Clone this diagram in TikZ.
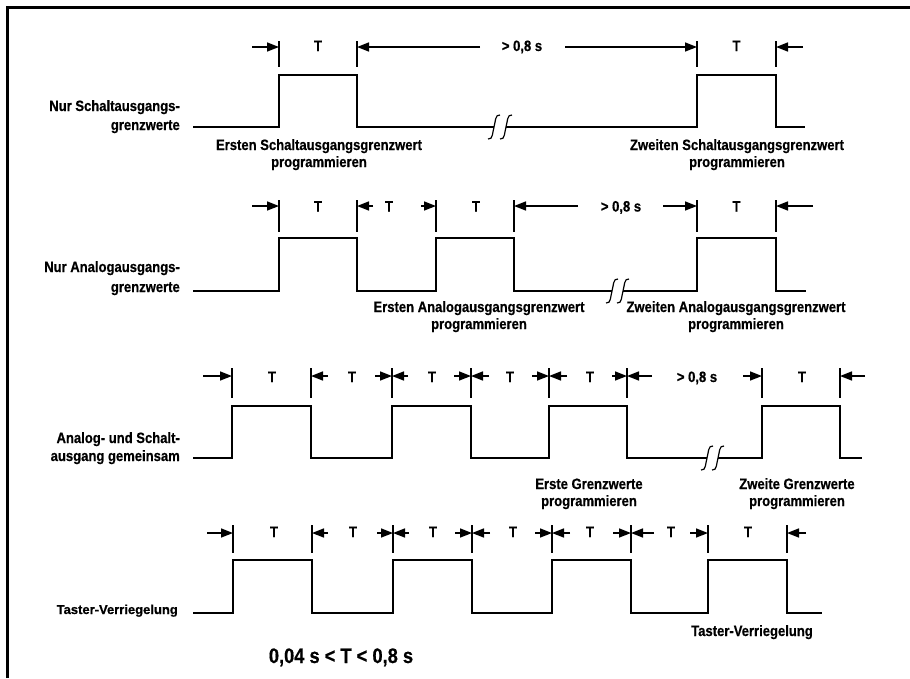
\documentclass[tikz,border=0pt]{standalone}
\usepackage{fontspec}
\setmainfont{Liberation Sans}[FakeStretch=0.87, BoldFeatures={FakeBold=0.6}]
\newfontfamily\widefont{Liberation Sans}[BoldFeatures={FakeBold=0.6}]
\usetikzlibrary{arrows.meta}
\tikzset{
  sig/.style={line width=1.8pt, line join=miter},
  tickline/.style={line width=1.2pt},
  dimarrow/.style={line width=1.5pt, -{Triangle[length=12pt,width=9pt]}},
  brk/.style={line width=1.2pt},
  lbl/.style={font=\fontsize{15}{18}\selectfont\bfseries, inner sep=0pt, anchor=base},
  lblR/.style={lbl, anchor=base east},
}
\newcommand{\tdBreak}[2]{%
  \draw[brk] (#1-6,#2+12) .. controls (#1-1,#2+13) and (#1-1.5,#2+5) .. (#1,#2)
             .. controls (#1+1.5,#2-5) and (#1+1,#2-13) .. (#1+6,#2-12);}
\begin{document}
\begin{tikzpicture}[x=1pt,y=-1pt]
\useasboundingbox (0,0) rectangle (910,678);
% frame
\draw[line width=3pt] (7,678) -- (7,7) -- (910,7);

% ---------------- Row 1 ----------------
\draw[sig] (193,127) -- (279,127) -- (279,75) -- (357,75) -- (357,127) -- (494,127);
\draw[sig] (506,127) -- (697,127) -- (697,75) -- (776,75) -- (776,127) -- (805,127);
\tdBreak{494}{127}\tdBreak{506}{127}
\foreach \x in {279,357,697,776} \draw[tickline] (\x,41) -- (\x,67);
\draw[dimarrow] (252,47) -- (279,47);
\draw[dimarrow] (480,47) -- (357,47);
\draw[dimarrow] (565,47) -- (697,47);
\draw[dimarrow] (803,47) -- (776,47);
\node[lbl] (t11) at (318,51) {T};
\node[lbl] (t12) at (736.5,51) {T};
\node[lbl] (g1) at (522,51) {> 0,8 s};
\node[lblR] (l1a) at (180,111) {Nur Schaltausgangs-};
\node[lblR] (l1b) at (180,130) {grenzwerte};
\node[lbl] (e1a) at (319,150) {Ersten Schaltausgangsgrenzwert};
\node[lbl] (e1b) at (319,167) {programmieren};
\node[lbl] (z1a) at (737,150) {Zweiten Schaltausgangsgrenzwert};
\node[lbl] (z1b) at (737,167) {programmieren};

% ---------------- Row 2 ----------------
\draw[sig] (193,291) -- (279,291) -- (279,238) -- (357,238) -- (357,291) -- (436,291)
  -- (436,238) -- (514,238) -- (514,291) -- (612,291);
\draw[sig] (623,291) -- (697,291) -- (697,238) -- (776,238) -- (776,291) -- (806,291);
\tdBreak{612}{291}\tdBreak{623}{291}
\foreach \x in {279,357,436,514,697,776} \draw[tickline] (\x,200) -- (\x,232);
\draw[dimarrow] (252,206) -- (279,206);
\draw[dimarrow] (373,206) -- (357,206);
\draw[dimarrow] (421,206) -- (436,206);
\draw[dimarrow] (578,206) -- (514,206);
\draw[dimarrow] (663,206) -- (697,206);
\draw[dimarrow] (813,206) -- (776,206);
\node[lbl] (t21) at (318,211.5) {T};
\node[lbl] (t22) at (389,211.5) {T};
\node[lbl] (t23) at (476,211.5) {T};
\node[lbl] (t24) at (736.5,211.5) {T};
\node[lbl] (g2) at (621,211.5) {> 0,8 s};
\node[lblR] (l2a) at (180,272) {Nur Analogausgangs-};
\node[lblR] (l2b) at (180,292) {grenzwerte};
\node[lbl] (e2a) at (479,312) {Ersten Analogausgangsgrenzwert};
\node[lbl] (e2b) at (479,329) {programmieren};
\node[lbl] (z2a) at (736,312) {Zweiten Analogausgangsgrenzwert};
\node[lbl] (z2b) at (736,329) {programmieren};

% ---------------- Row 3 ----------------
\draw[sig] (193,458) -- (232,458) -- (232,406) -- (311,406) -- (311,458) -- (392,458)
  -- (392,406) -- (471,406) -- (471,458) -- (549,458) -- (549,406) -- (627,406)
  -- (627,458) -- (707,458);
\draw[sig] (718,458) -- (762,458) -- (762,406) -- (840,406) -- (840,458) -- (862,458);
\tdBreak{707}{458}\tdBreak{718}{458}
\foreach \x in {232,311,392,471,549,627,762,840} \draw[tickline] (\x,368) -- (\x,398);
\draw[dimarrow] (203,376) -- (232,376);
\draw[dimarrow] (328,376) -- (311,376);
\draw[dimarrow] (375,376) -- (392,376);
\draw[dimarrow] (408,376) -- (392,376);
\draw[dimarrow] (454,376) -- (471,376);
\draw[dimarrow] (489,376) -- (471,376);
\draw[dimarrow] (532,376) -- (549,376);
\draw[dimarrow] (567,376) -- (549,376);
\draw[dimarrow] (612,376) -- (627,376);
\draw[dimarrow] (652,376) -- (627,376);
\draw[dimarrow] (743,376) -- (762,376);
\draw[dimarrow] (865,376) -- (840,376);
\node[lbl] (t31) at (272,382) {T};
\node[lbl] (t32) at (352,382) {T};
\node[lbl] (t33) at (432,382) {T};
\node[lbl] (t34) at (510,382) {T};
\node[lbl] (t35) at (590,382) {T};
\node[lbl] (t36) at (802,382) {T};
\node[lbl] (g3) at (697,382) {> 0,8 s};
\node[lblR] (l3a) at (180,443) {Analog- und Schalt-};
\node[lblR] (l3b) at (180,461) {ausgang gemeinsam};
\node[lbl] (e3a) at (589,489) {Erste Grenzwerte};
\node[lbl] (e3b) at (589,506) {programmieren};
\node[lbl] (z3a) at (797,489) {Zweite Grenzwerte};
\node[lbl] (z3b) at (797,506) {programmieren};

% ---------------- Row 4 ----------------
\draw[sig] (193,613) -- (233,613) -- (233,560) -- (312,560) -- (312,613) -- (393,613)
  -- (393,560) -- (472,560) -- (472,613) -- (552,613) -- (552,560) -- (631,560)
  -- (631,613) -- (708,613) -- (708,560) -- (787,560) -- (787,613) -- (822,613);
\foreach \x in {233,312,393,472,552,631,708,787} \draw[tickline] (\x,525) -- (\x,553);
\draw[dimarrow] (207,533) -- (233,533);
\draw[dimarrow] (328,533) -- (312,533);
\draw[dimarrow] (377,533) -- (393,533);
\draw[dimarrow] (409,533) -- (393,533);
\draw[dimarrow] (455,533) -- (472,533);
\draw[dimarrow] (490,533) -- (472,533);
\draw[dimarrow] (535,533) -- (552,533);
\draw[dimarrow] (570,533) -- (552,533);
\draw[dimarrow] (613,533) -- (631,533);
\draw[dimarrow] (654,533) -- (631,533);
\draw[dimarrow] (690,533) -- (708,533);
\draw[dimarrow] (806,533) -- (787,533);
\node[lbl] (t41) at (274,537) {T};
\node[lbl] (t42) at (353,537) {T};
\node[lbl] (t43) at (433,537) {T};
\node[lbl] (t44) at (513,537) {T};
\node[lbl] (t45) at (590,537) {T};
\node[lbl] (t46) at (671,537) {T};
\node[lbl] (t47) at (748,537) {T};
\node[lblR, font=\widefont\fontsize{13}{15}\selectfont\bfseries] (l4) at (178,614) {Taster-Verriegelung};
\node[lbl] (r4) at (752,636) {Taster-Verriegelung};
\node[lbl, font=\fontsize{21}{24}\selectfont\bfseries] (cond) at (341,663) {0,04 s < T < 0,8 s};
\end{tikzpicture}
\end{document}
